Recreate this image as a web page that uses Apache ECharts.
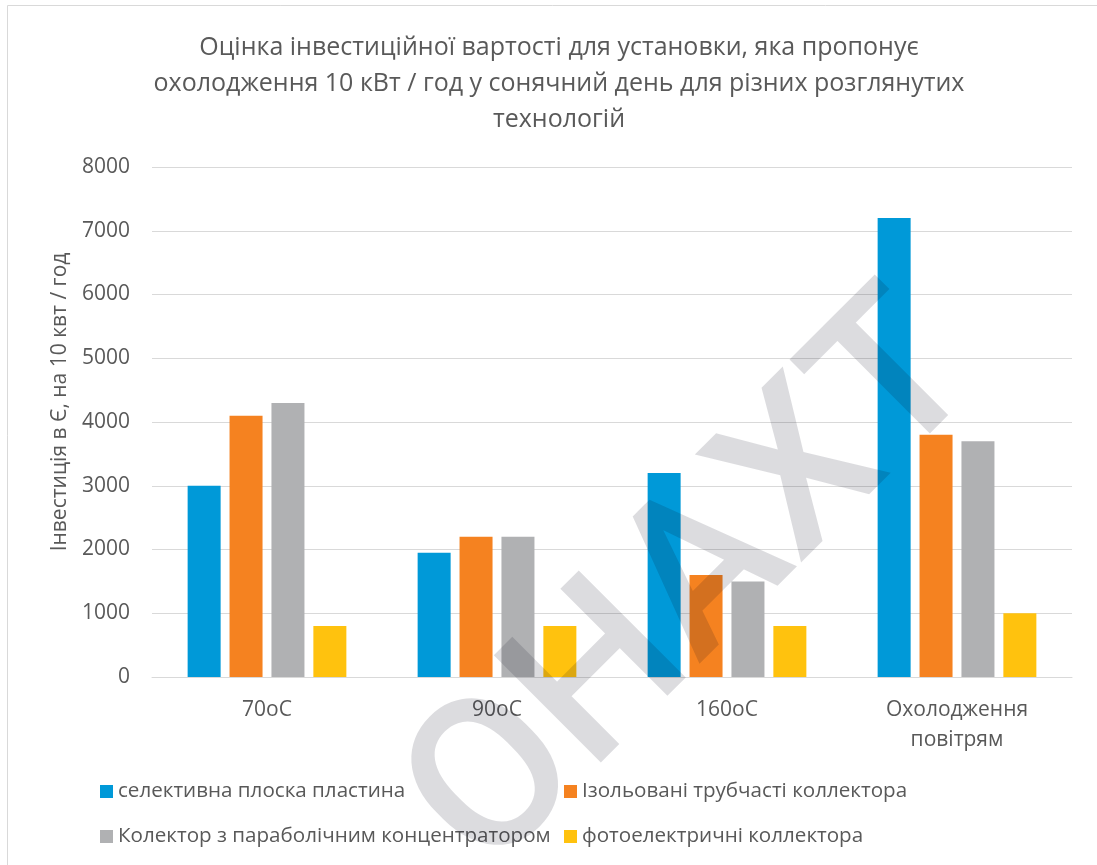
<!DOCTYPE html>
<html>
<head>
<meta charset="utf-8">
<script src="https://cdn.jsdelivr.net/npm/echarts@6/dist/echarts.min.js"></script>
<style>html,body{margin:0;padding:0;background:#fff;}#c{width:1097px;height:865px;}</style>
</head>
<body>
<div id="c"></div>
<script>
var titleText = 'Оцінка інвестиційної вартості для установки, яка пропонує\nохолодження 10 кВт / год у сонячний день для різних розглянутих\nтехнологій';
var yAxisName = 'Інвестиція в Є, на 10 квт / год';
var categories = ['70oC', '90oC', '160oC', 'Охолодження\nповітрям'];
var seriesNames = ['селективна плоска пластина', 'Ізольовані трубчасті коллектора', 'Колектор з параболічним концентратором', 'фотоелектричні коллектора'];
var flatPlate = [3000, 1950, 3200, 7200];
var tubular = [4100, 2200, 1600, 3800];
var parabolic = [4300, 2200, 1500, 3700];
var photovoltaic = [800, 800, 800, 1000];
var yTicks = {min: 0, max: 8000, interval: 1000};
var watermark = 'ОНАХТ';

var colors = ['#0099D8', '#F58220', '#B0B1B3', '#FFC20E'];
var values = [flatPlate, tubular, parabolic, photovoltaic];
var txt = '#595959';
var font = 'Open Sans';

var chart = echarts.init(document.getElementById('c'), null, {renderer: 'canvas'});
chart.setOption({
  animation: false,
  color: colors,
  title: {
    text: titleText,
    left: 554, top: 25, textAlign: 'center',
    textStyle: {fontFamily: font, fontSize: 25, fontWeight: 'normal', color: txt, lineHeight: 36}
  },
  grid: {left: 152, right: 25, top: 167, bottom: 188, containLabel: false},
  legend: [
    {orient: 'vertical', left: 95, top: 776, padding: 5, itemWidth: 13, itemHeight: 13, itemGap: 24,
     icon: 'rect', data: [seriesNames[0], seriesNames[2]],
     textStyle: {fontFamily: font, fontSize: 20.6, color: txt, lineHeight: 20}},
    {orient: 'vertical', left: 559, top: 776, padding: 5, itemWidth: 13, itemHeight: 13, itemGap: 24,
     icon: 'rect', data: [seriesNames[1], seriesNames[3]],
     textStyle: {fontFamily: font, fontSize: 20.6, color: txt, lineHeight: 20}}
  ],
  xAxis: {
    type: 'category', data: categories,
    axisLine: {lineStyle: {color: '#d9d9d9', width: 1}},
    axisTick: {show: false},
    axisLabel: {color: txt, fontFamily: font, fontSize: 21, lineHeight: 30, margin: 18}
  },
  yAxis: {
    type: 'value', min: yTicks.min, max: yTicks.max, interval: yTicks.interval,
    axisLine: {show: false}, axisTick: {show: false},
    splitLine: {lineStyle: {color: '#d9d9d9', width: 1}},
    axisLabel: {color: txt, fontFamily: font, fontSize: 21, margin: 22,
                formatter: function (v) { return String(v); }}
  },
  series: seriesNames.map(function (n, i) {
    return {name: n, type: 'bar', data: values[i], barWidth: 33, barGap: '27%',
            itemStyle: {color: colors[i]}};
  }),
  graphic: [
    {type: 'rect', shape: {x: 7.5, y: 5.5, width: 1200, height: 1000}, z: -10, silent: true,
     style: {fill: 'none', stroke: '#d9d9d9', lineWidth: 1}},
    {type: 'text', x: 60, y: 402, rotation: Math.PI / 2, silent: true,
     style: {text: yAxisName, fill: txt, font: '21px "Open Sans"', align: 'center', verticalAlign: 'middle'}},
    {type: 'text', x: 698, y: 590, rotation: Math.PI / 4, z: 100, silent: true,
     style: {text: watermark, fill: 'rgba(10,10,30,0.14)', font: '500 213px Roboto', align: 'center', verticalAlign: 'middle'}}
  ]
});
</script>
</body>
</html>
